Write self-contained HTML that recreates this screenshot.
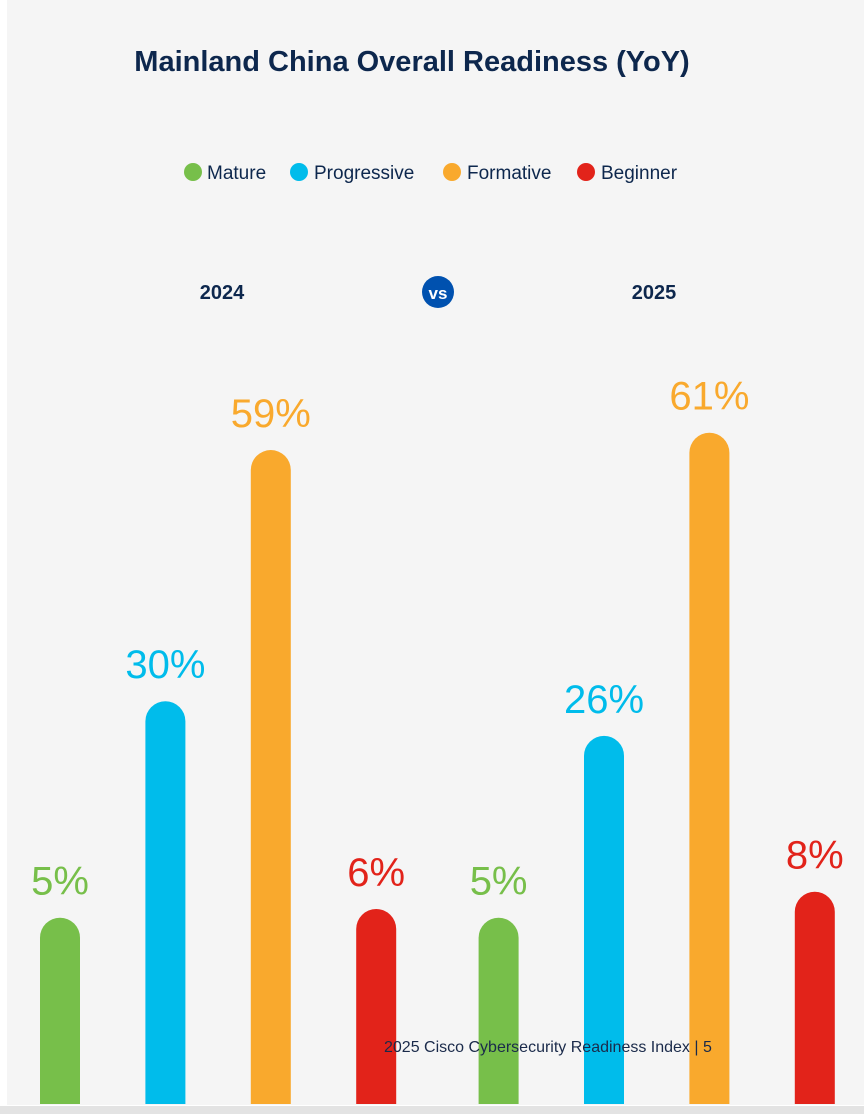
<!DOCTYPE html>
<html><head><meta charset="utf-8"><style>
html,body{margin:0;padding:0;background:#fff;width:864px;height:1114px;overflow:hidden;font-family:"Liberation Sans",sans-serif}
</style></head><body>
<svg width="864" height="1114" viewBox="0 0 864 1114" xmlns="http://www.w3.org/2000/svg">
<rect x="0" y="0" width="864" height="1114" fill="#ffffff"/>
<rect x="7" y="0" width="857" height="1105" fill="#f5f5f5"/>
<rect x="0" y="1106" width="864" height="8" fill="#e3e3e3"/>
<text x="412" y="71" text-anchor="middle" font-size="29" font-weight="bold" fill="#0d274d">Mainland China Overall Readiness (YoY)</text>
<g>
<circle cx="193" cy="172" r="9" fill="#77bf4a"/>
<text x="207" y="179" font-size="19" fill="#0d274d">Mature</text>
<circle cx="299" cy="172" r="9" fill="#00bceb"/>
<text x="314" y="179" font-size="19" fill="#0d274d">Progressive</text>
<circle cx="452" cy="172" r="9" fill="#f9a92d"/>
<text x="467" y="179" font-size="19" fill="#0d274d">Formative</text>
<circle cx="586" cy="172" r="9" fill="#e2231a"/>
<text x="601" y="179" font-size="19" fill="#0d274d">Beginner</text>
</g>
<text x="222" y="299" text-anchor="middle" font-size="20" font-weight="bold" fill="#0d274d">2024</text>
<circle cx="438" cy="292" r="16" fill="#0051af"/>
<text x="438" y="299" text-anchor="middle" font-size="17" font-weight="bold" fill="#fff">vs</text>
<text x="654" y="299" text-anchor="middle" font-size="20" font-weight="bold" fill="#0d274d">2025</text>
<g id="bars"></g>
<text x="384" y="1052" font-size="16" fill="#1a2a4a">2025 Cisco Cybersecurity Readiness Index  |  5</text>
</svg>
<script>
const categories = ["Mature","Progressive","Formative","Beginner","Mature","Progressive","Formative","Beginner"];
const years = ["2024","2024","2024","2024","2025","2025","2025","2025"];
const values = [5,30,59,6,5,26,61,8];
const labels = ["5%","30%","59%","6%","5%","26%","61%","8%"];
const colorMap = {Mature:"#77bf4a",Progressive:"#00bceb",Formative:"#f9a92d",Beginner:"#e2231a"};
const xCenter = i => 60 + i*105.4 + (i>=4 ? 17 : 0);
const yScale = v => 961 - 8.66*v;
const g = document.getElementById('bars');
const NS = "http://www.w3.org/2000/svg";
values.forEach((v,i)=>{
  const cx = xCenter(i), top = yScale(v), w = 40, bottom = 1104;
  const p = document.createElementNS(NS,'path');
  p.setAttribute('d',`M${cx-w/2},${bottom} L${cx-w/2},${top+20} A20,20 0 0 1 ${cx+w/2},${top+20} L${cx+w/2},${bottom} Z`);
  p.setAttribute('fill',colorMap[categories[i]]);
  
  
  g.appendChild(p);
  const t = document.createElementNS(NS,'text');
  t.setAttribute('x',cx);
  t.setAttribute('y',top-23);
  t.setAttribute('text-anchor','middle');
  t.setAttribute('font-size','40');
  t.setAttribute('font-weight','300');
  t.setAttribute('fill',colorMap[categories[i]]);
  t.textContent = labels[i];
  
  
  g.appendChild(t);
});
</script>
</body></html>
